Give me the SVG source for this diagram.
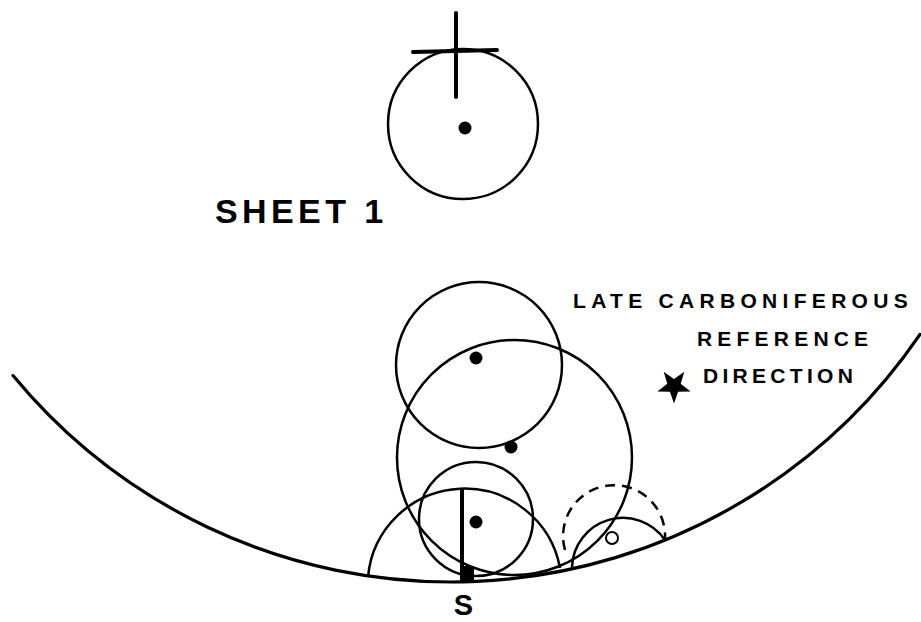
<svg xmlns="http://www.w3.org/2000/svg" width="921" height="622" viewBox="0 0 921 622">
<style>
.c{fill:none;stroke:#000;stroke-width:2.5}
.arc{fill:none;stroke:#000;stroke-width:3.2;stroke-linecap:round}
.dot{fill:#000}
.t{font-family:"Liberation Sans",Arial,sans-serif;font-weight:bold;fill:#000}
.d{fill:none;stroke:#000;stroke-width:2.5;stroke-dasharray:10 7}
.k{stroke:#000;stroke-width:4;stroke-linecap:round}
</style>
<rect width="921" height="622" fill="#fff"/>
<g id="boundary">
<path class="arc" d="M13,375.6 A568,568 0 0 0 920,334.4"/>
</g>
<g id="sheet1">
<circle class="c" cx="463" cy="124" r="75"/>
<circle class="dot" cx="465" cy="128" r="6.5"/>
<line class="k" x1="456" y1="13" x2="456" y2="97"/>
<line class="k" x1="413" y1="52" x2="497" y2="50"/>
<text class="t" x="215" y="223" font-size="34" letter-spacing="4.4">SHEET 1</text>
</g>
<g id="circleA">
<circle class="c" cx="479" cy="365" r="83"/>
<circle class="dot" cx="476" cy="358" r="6.5"/>
</g>
<g id="circleB">
<circle class="c" cx="514.5" cy="457.5" r="117.5"/>
<circle class="dot" cx="511" cy="447" r="6.5"/>
</g>
<g id="circleC">
<circle class="c" cx="476" cy="519" r="57"/>
<circle class="dot" cx="476" cy="522" r="6.5"/>
</g>
<g id="circleD">
<path class="c" d="M368,577 A97,97 0 0 1 560,568"/>
<line x1="462" y1="489" x2="462" y2="580" stroke="#000" stroke-width="4"/>
<rect x="460" y="566" width="14" height="15" fill="#000"/>
<text class="t" x="463.5" y="615" font-size="29" text-anchor="middle">S</text>
</g>
<g id="circleE">
<path class="d" d="M565,550 A51,51 0 1 1 665,539"/>
<circle cx="612" cy="538" r="6" fill="#fff" stroke="#000" stroke-width="2"/>
</g>
<g id="circleF">
<path class="c" d="M572,567 A51,51 0 0 1 665,540"/>
</g>
<g id="legend">
<text class="t" x="573" y="308" font-size="21" letter-spacing="5.3">LATE CARBONIFEROUS</text>
<text class="t" x="697" y="346" font-size="21" letter-spacing="5.2">REFERENCE</text>
<text class="t" x="703" y="383" font-size="21" letter-spacing="4.3">DIRECTION</text>
<polygon fill="#000" points="674,403.5 669.9,391.7 657.4,391.4 667.3,383.8 663.7,371.8 674,379 684.3,371.8 680.7,383.8 690.6,391.4 678.1,391.7"/>
</g>
</svg>
